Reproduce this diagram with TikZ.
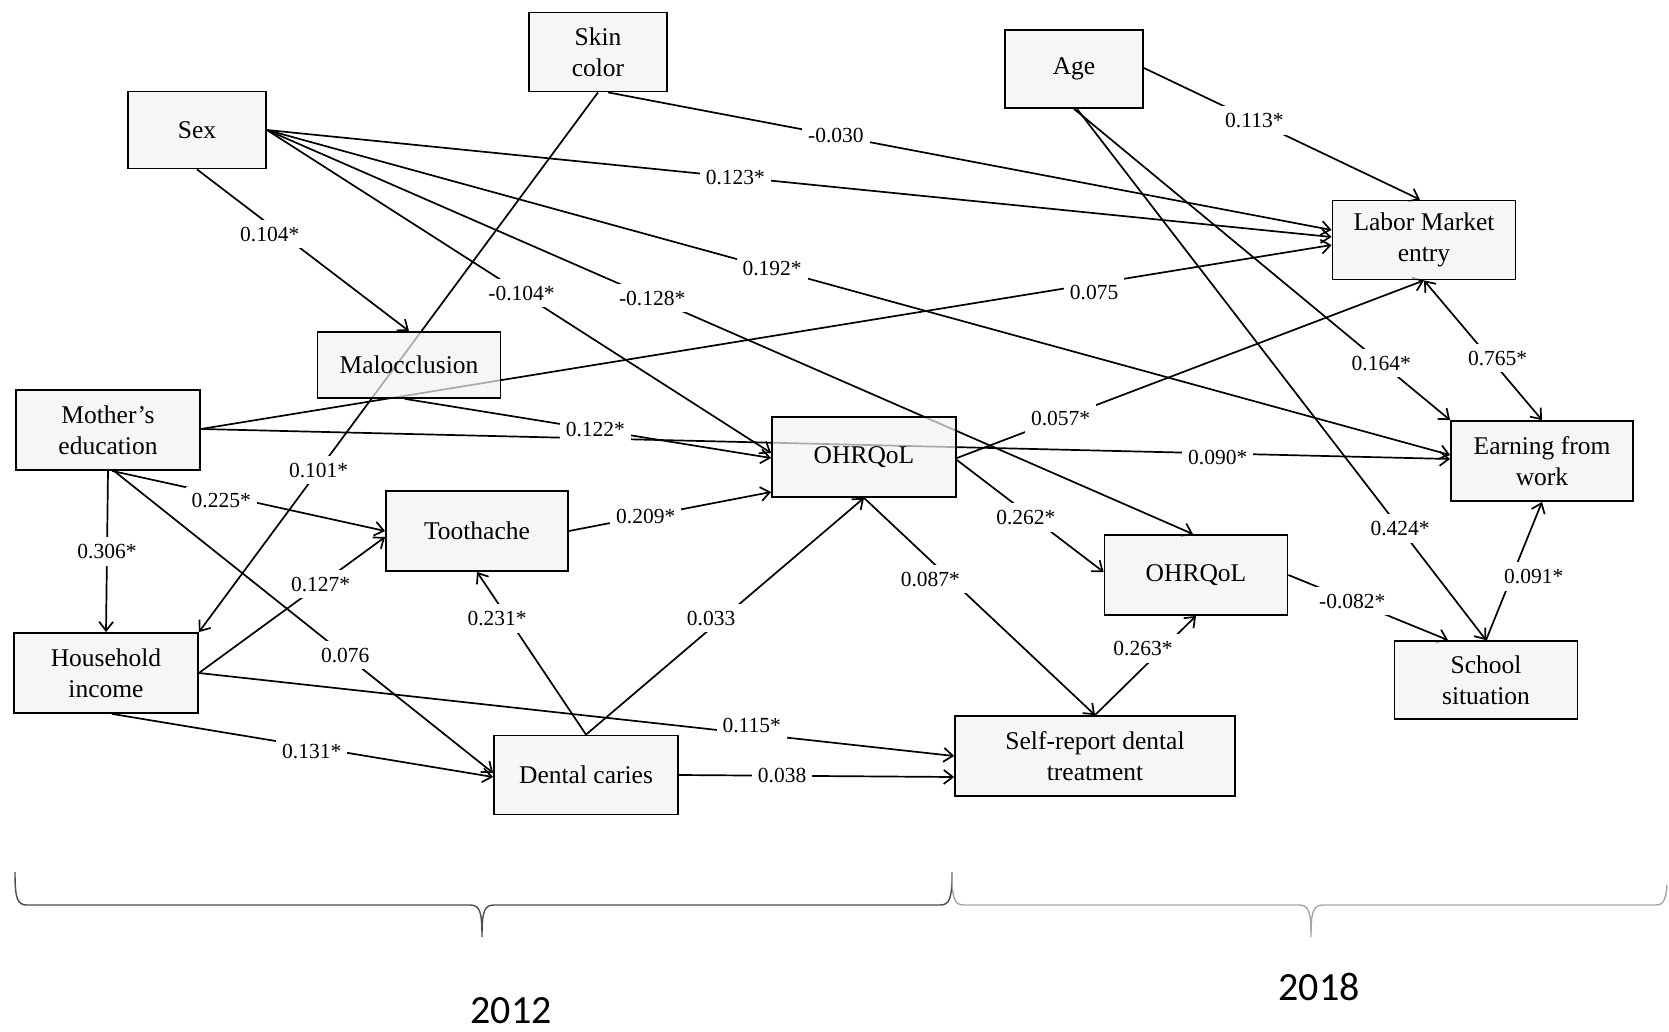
\documentclass[tikz,border=0pt]{standalone}
\usepackage{fontspec}
\setmainfont{Liberation Serif}
\newfontfamily\tnrfont{Liberation Serif}
\newfontfamily\yearfont{Carlito}
\usetikzlibrary{arrows.meta}
\pgfdeclarelayer{background}
\pgfsetlayers{background,main}
\definecolor{boxfill}{HTML}{F2F2F2}
\newcommand\mybxfont{\tnrfont\fontsize{25.5}{31}\selectfont}
\newcommand\mylbfont{\tnrfont\fontsize{21.5}{25}\selectfont}
\tikzset{
  vbox/.style={draw=black, line width=1.8pt, fill=boxfill, fill opacity=0.7, text opacity=1,
    inner sep=0pt, align=center, font=\mybxfont, minimum height=79pt},
  lbl/.style={fill=white, inner xsep=6pt, inner ysep=7pt, font=\mylbfont},
  arr/.style={line width=1.7pt, -{Straight Barb[length=9pt,width=14pt]}},
  arrb/.style={line width=1.7pt, {Straight Barb[length=9pt,width=14pt]}-{Straight Barb[length=9pt,width=14pt]}},
  bracel/.style={line width=1.4pt, draw=black!70},
  bracer/.style={line width=1.4pt, draw=black!35},
  yearlbl/.style={font=\yearfont\fontsize{40}{48}\selectfont, inner sep=0pt}
}
% #1 style, #2 label name, #3 from, #4 to, #5 label options (pos...), #6 text
\newcommand\edgelab[6][arr]{%
  \begin{pgfonlayer}{background}\draw[#1] (#3) -- (#4);\end{pgfonlayer}%
  \path (#3) -- node[lbl,pos=#5] (#2) {#6} (#4);}
\begin{document}
\begin{tikzpicture}[x=1pt,y=-1pt]
\useasboundingbox (0,0) rectangle (1669,1032);

% nodes
\node[vbox, minimum width=138pt] (skin) at (598,52) {Skin\\color};
\node[vbox, minimum width=138pt, minimum height=77pt] (sex) at (197,130) {Sex};
\node[vbox, minimum width=138pt, minimum height=78pt] (age) at (1074,69) {Age};
\node[vbox, minimum width=183pt, minimum height=66pt] (malo) at (409,365) {Malocclusion};
\node[vbox, minimum width=184pt, minimum height=80pt] (med) at (108,430) {Mother’s\\education};
\node[vbox, minimum width=183pt] (lme) at (1424,240) {Labor Market\\entry};
\node[vbox, minimum width=184pt, minimum height=80pt] (oh1) at (864,457) {OHRQoL};
\node[vbox, minimum width=182pt, minimum height=80pt] (earn) at (1542,461) {Earning from\\work};
\node[vbox, minimum width=182pt, minimum height=80pt] (tooth) at (477,531) {Toothache};
\node[vbox, minimum width=183pt, minimum height=80pt] (oh2) at (1196,575) {OHRQoL};
\node[vbox, minimum width=184pt, minimum height=80pt] (hh) at (106,673) {Household\\income};
\node[vbox, minimum width=183pt, minimum height=78pt] (school) at (1486,680) {School\\situation};
\node[vbox, minimum width=184pt] (dc) at (586,775) {Dental caries};
\node[vbox, minimum width=280pt, minimum height=80pt] (sr) at (1095,756) {Self-report dental\\treatment};

% connectors
\edgelab{l1}{sex.south}{malo.north}{0.40,xshift=-12pt}{0.104*}
\edgelab{l2}{skin.south}{hh.north east}{0.70}{0.101*}
\edgelab{l3}{[xshift=10pt]skin.south}{[yshift=10pt]lme.west}{0.315}{-0.030}
\edgelab{l4}{sex.east}{[yshift=3pt]lme.west}{0.44}{0.123*}
\edgelab{l5}{sex.east}{[yshift=6pt]earn.west}{0.427}{0.192*}
\edgelab{l6}{sex.east}{[yshift=4pt]oh1.west}{0.505}{-0.104*}
\edgelab{l7}{sex.east}{[xshift=-3pt]oh2.north}{0.416}{-0.128*}
\edgelab{l8}{[yshift=1pt]med.east}{[yshift=-5pt]lme.west}{0.79,yshift=-9pt}{0.075}
\edgelab{l9}{[xshift=-4pt]malo.south}{[yshift=-1pt]oh1.west}{0.52}{0.122*}
\edgelab{l10}{[yshift=1pt]med.east}{[yshift=2pt]earn.west}{0.814,yshift=-4pt}{0.090*}
\edgelab{l11}{med.south}{hh.north}{0.5}{0.306*}
\edgelab{l12}{[xshift=4pt]med.south}{tooth.west}{0.40,yshift=-6pt}{0.225*}
\edgelab{l13}{[xshift=6pt]med.south}{[yshift=2pt]dc.west}{0.61}{0.076}
\edgelab{l14}{hh.east}{[yshift=-6pt]tooth.west}{0.654}{0.127*}
\edgelab{l15}{hh.east}{sr.west}{0.732,yshift=8pt}{0.115*}
\edgelab{l16}{[xshift=6pt]hh.south}{[yshift=-2pt]dc.west}{0.524,yshift=-5pt}{0.131*}
\edgelab{l17}{tooth.east}{[yshift=-35pt]oh1.west}{0.38}{0.209*}
\edgelab{l18}{dc.north}{tooth.south}{0.715,xshift=-11pt}{0.231*}
\edgelab{l19}{dc.north}{oh1.south}{0.45,yshift=10pt}{0.033}
\edgelab{l20}{dc.east}{[yshift=-21pt]sr.west}{0.375}{0.038}
\edgelab{l21}{oh1.south}{sr.north}{0.374,xshift=-20pt}{0.087*}
\edgelab{l22}{[yshift=-3pt]oh1.east}{[yshift=3pt]oh2.west}{0.47,yshift=-5pt}{0.262*}
\edgelab{l23}{[yshift=-1pt]oh1.east}{lme.south}{0.222}{0.057*}
\edgelab{l24}{sr.north}{oh2.south}{0.673,xshift=-20pt}{0.263*}
\edgelab{l25}{oh2.east}{[xshift=-38pt]school.north}{0.40}{-0.082*}
\edgelab{l26}{[yshift=1pt]age.east}{[xshift=-4pt]lme.north}{0.40}{0.113*}
\edgelab{l27}{age.south}{earn.north west}{0.817}{0.164*}
\edgelab{l28}{[xshift=3pt]age.south}{school.north}{0.79}{0.424*}
\edgelab[arrb]{l29}{lme.south}{earn.north}{0.556,xshift=8pt}{0.765*}
\edgelab{l30}{school.north}{earn.south}{0.46,xshift=22pt}{0.091*}

% braces
\draw[bracel] (15,872) .. controls (15,898) and (17,905) .. (27,905) -- (470,905)
  .. controls (480,905) and (482,912) .. (482,937)
  .. controls (482,912) and (484,905) .. (494,905) -- (940,905)
  .. controls (950,905) and (952,898) .. (952,872);
\draw[bracer] (952,872) .. controls (952,898) and (954,905) .. (964,905) -- (1299,905)
  .. controls (1309,905) and (1311,912) .. (1311,937)
  .. controls (1311,912) and (1313,905) .. (1323,905) -- (1656,905)
  .. controls (1664,905) and (1666,898) .. (1667,885);

\node[yearlbl] (y2012) at (511,1011) {2012};
\node[yearlbl] (y2018) at (1319,987) {2018};
\end{tikzpicture}
\end{document}
